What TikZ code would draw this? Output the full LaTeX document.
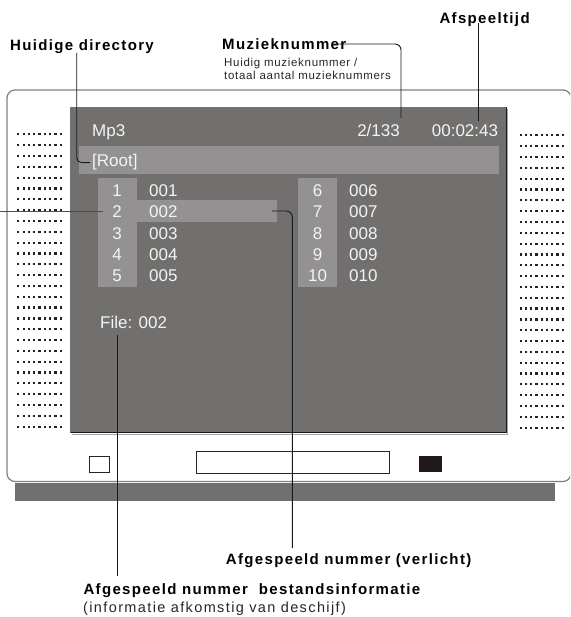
\documentclass[tikz,border=0pt]{standalone}
\usepackage{fontspec}
\setmainfont{Liberation Sans}
\newfontfamily\lblfont[LetterSpace=9]{Liberation Sans}
\newfontfamily\subfont[LetterSpace=6]{Liberation Sans}
\newfontfamily\infofont[LetterSpace=9.5]{Liberation Sans}
\definecolor{scr}{HTML}{72706E}
\definecolor{bar}{HTML}{939191}
\definecolor{txt}{HTML}{F4F4F4}
\definecolor{hous}{HTML}{7F7F7F}
\definecolor{dotc}{HTML}{222222}
\definecolor{blk}{HTML}{1F1A17}
\tikzset{
  lbl/.style={inner sep=0pt, anchor=base west, font=\lblfont\bfseries\fontsize{15}{17}\selectfont, text=black},
  sublbl/.style={inner sep=0pt, anchor=base west, font=\subfont\fontsize{11.5}{13}\selectfont, text=black!85},
  infolbl/.style={inner sep=0pt, anchor=base west, font=\infofont\fontsize{14.5}{16}\selectfont, text=black!85},
  scrtxt/.style={inner sep=0pt, font=\fontsize{17}{19}\selectfont, text=txt},
  lead/.style={draw=black!90, line width=0.9pt},
  spk/.style={fill=dotc}
}
\begin{document}
\begin{tikzpicture}[x=1pt,y=-1pt]
\useasboundingbox (0,0) rectangle (570,617);
\clip (0,0) rectangle (570,617);
% housing
\draw[hous, line width=1.2pt, rounded corners=8pt] (7,90) rectangle (571,481.5);
\fill[scr] (14.5,482.7) rectangle (555,500.7);
% speakers
\foreach \r in {0,...,27}{
  \foreach \c in {0,...,8}{
    \fill[spk] ({18.3+5.3*\c-1.1},{134.3+10.83*\r-1.1}) rectangle ++(2.2,2.2);
    \fill[spk] ({520.7+5.25*\c-1.1},{135.3+10.83*\r-1.1}) rectangle ++(2.2,2.2);
  }
}
% screen
\draw[black!35, line width=1pt] (72,434) -- (507.6,434) -- (507.6,109);
\fill[scr] (70.7,107) rectangle (506,432.5);
\draw[black!55, line width=0.6pt] (70.7,432.5) -- (70.7,107) -- (506,107);
\draw[black!90, line width=1pt] (70.7,432.5) -- (506,432.5) -- (506,107);
% bars
\fill[bar] (79,146) rectangle (499,174);
\fill[bar] (97.7,178) rectangle (136.7,286.7);
\fill[bar] (298,178) rectangle (336.7,286.7);
\fill[bar] (136.7,200) rectangle (277,221.7);
% buttons
\draw[black!85, line width=0.8pt] (89.5,456) rectangle (109,472);
\draw[black!85, line width=0.8pt] (196.7,451) rectangle (389.5,473);
\fill[blk] (419,456) rectangle (442,472);
% screen texts
\node[scrtxt, anchor=base west] (mp3) at (92,136.5) {Mp3};
\node[scrtxt, anchor=base east] (trk) at (400,136.5) {2/133};
\node[scrtxt, anchor=base west] (time) at (431.7,136.5) {00:02:43};
\node[scrtxt, anchor=base west] (root) at (92,167) {[Root]};
\foreach \i/\a/\b in {1/001/006,2/002/007,3/003/008,4/004/009,5/005/010}{
  \pgfmathsetmacro{\yy}{196.5+21.35*(\i-1)}
  \pgfmathtruncatemacro{\j}{\i+5}
  \node[scrtxt, anchor=base] (n\i) at (117,\yy) {\i};
  \node[scrtxt, anchor=base west] (f\i) at (149,\yy) {\a};
  \node[scrtxt, anchor=base] (n\j) at (317.5,\yy) {\j};
  \node[scrtxt, anchor=base west] (f\j) at (349,\yy) {\b};
}
\node[scrtxt, anchor=base west] (file) at (100,328.3) {File: 002};
% labels
\node[lbl] (lhd) at (10,50.5) {Huidige directory};
\node[lbl] (lmz) at (222,49.5) {Muzieknummer};
\node[sublbl] (lmzs1) at (224,66.7) {Huidig muzieknummer /};
\node[sublbl] (lmzs2) at (224,80) {totaal aantal muzieknummers};
\node[lbl] (laf) at (439.3,23.3) {Afspeeltijd};
\node[lbl] (lver) at (225.7,564.3) {Afgespeeld nummer (verlicht)};
\node[lbl] (lbest) at (83.3,594) {Afgespeeld nummer\ \ bestandsinformatie};
\node[infolbl] (linfo) at (83,612.5) {(informatie afkomstig van deschijf)};
% leader coordinates
\coordinate (hdA) at (76.7,53);
\coordinate (mzA) at (332,44);
\coordinate (mzB) at (401,118);
\coordinate (afA) at (478.3,23);
\coordinate (afB) at (478.3,121);
\coordinate (twA) at (0,211);
\coordinate (twB) at (103,211);
\coordinate (hlA) at (272,211);
\coordinate (hlB) at (292.3,548);
\coordinate (flA) at (117.7,335);
\coordinate (flB) at (117.7,576);
% leaders
\draw[lead, rounded corners=5pt] (hdA) |- ([xshift=-2pt]root.west);
\draw[lead, rounded corners=6pt] (mzA) -| (mzB);
\draw[lead] (afA) -- (afB);
\draw[draw=black!70, line width=0.8pt] (twA) -- (twB);
\draw[lead, rounded corners=6pt] (hlA) -| (hlB);
\draw[lead] (flA) -- (flB);
\end{tikzpicture}
\end{document}
